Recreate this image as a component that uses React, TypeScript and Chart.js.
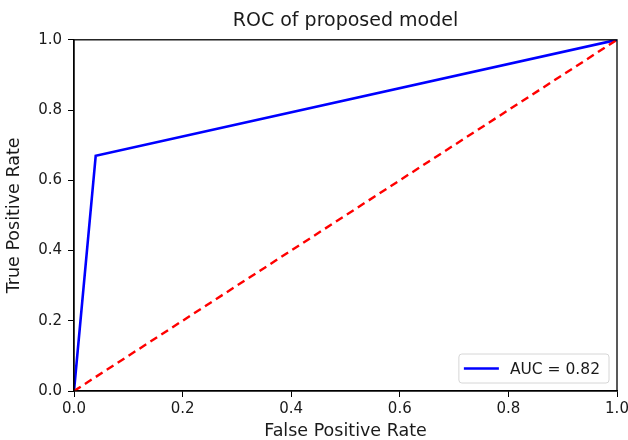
import React, { useEffect, useRef } from "react";
import { Chart, registerables } from "chart.js";

Chart.register(...registerables);

const TITLE = "ROC of proposed model";
const X_LABEL = "False Positive Rate";
const Y_LABEL = "True Positive Rate";
const ROC_FPR = [0, 0.04, 1];
const ROC_TPR = [0, 0.67, 1];
const DIAG_X = [0, 1];
const DIAG_Y = [0, 1];
const AUC_LABEL = "AUC = 0.82";
const TICKS = [0, 0.2, 0.4, 0.6, 0.8, 1.0];

const FONT = '"DejaVu Sans", "Liberation Sans", sans-serif';
const TEXT = "#1a1a1a";

const framePlugin = {
  id: "frame",
  afterDatasetsDraw(chart: any) {
    const { ctx, chartArea } = chart;
    ctx.save();
    ctx.strokeStyle = "#000";
    ctx.lineWidth = 1.3;
    ctx.strokeRect(chartArea.left, chartArea.top, chartArea.right - chartArea.left, chartArea.bottom - chartArea.top);
    ctx.restore();
  },
};

const legendPlugin = {
  id: "boxLegend",
  afterDraw(chart: any) {
    const { ctx, chartArea } = chart;
    const items = chart.data.datasets.filter((d: any) => d.label);
    if (!items.length) return;
    ctx.save();
    ctx.font = `15.5px ${FONT}`;
    const textW = Math.max(...items.map((d: any) => ctx.measureText(d.label).width));
    const padL = 4, lineLen = 36, gap = 11, padR = 9, rowH = 29;
    const w = padL + lineLen + gap + textW + padR;
    const h = rowH * items.length;
    const x = chartArea.right - 8 - w;
    const y = chartArea.bottom - 8 - h;
    const r = 3;
    ctx.beginPath();
    ctx.moveTo(x + r, y);
    ctx.lineTo(x + w - r, y);
    ctx.quadraticCurveTo(x + w, y, x + w, y + r);
    ctx.lineTo(x + w, y + h - r);
    ctx.quadraticCurveTo(x + w, y + h, x + w - r, y + h);
    ctx.lineTo(x + r, y + h);
    ctx.quadraticCurveTo(x, y + h, x, y + h - r);
    ctx.lineTo(x, y + r);
    ctx.quadraticCurveTo(x, y, x + r, y);
    ctx.closePath();
    ctx.fillStyle = "rgba(255,255,255,0.85)";
    ctx.fill();
    ctx.strokeStyle = "#d6d6d6";
    ctx.lineWidth = 1;
    ctx.stroke();
    items.forEach((d: any, i: number) => {
      const cy = y + rowH * i + rowH / 2;
      ctx.beginPath();
      ctx.moveTo(x + padL + 1, cy);
      ctx.lineTo(x + padL + lineLen, cy);
      ctx.strokeStyle = d.borderColor;
      ctx.lineWidth = d.borderWidth;
      ctx.setLineDash(d.borderDash || []);
      ctx.stroke();
      ctx.setLineDash([]);
      ctx.fillStyle = TEXT;
      ctx.textBaseline = "middle";
      ctx.textAlign = "left";
      ctx.fillText(d.label, x + padL + lineLen + gap, cy + 1);
    });
    ctx.restore();
  },
};

export default function App() {
  const ref = useRef<HTMLCanvasElement | null>(null);

  useEffect(() => {
    if (!ref.current) return;
    const tickCb = (v: any) => Number(v).toFixed(1);
    const setTicks = (s: any) => {
      s.ticks = TICKS.map((v) => ({ value: v }));
    };
    const chart = new Chart(ref.current, {
      type: "line",
      data: {
        datasets: [
          {
            label: AUC_LABEL,
            data: ROC_FPR.map((x, i) => ({ x, y: ROC_TPR[i] })),
            borderColor: "#0000ff",
            borderWidth: 2.6,
            pointRadius: 0,
            tension: 0,
            fill: false,
            order: 1,
          },
          {
            label: "",
            data: DIAG_X.map((x, i) => ({ x, y: DIAG_Y[i] })),
            borderColor: "#ff0000",
            borderWidth: 2.4,
            borderDash: [8, 5],
            pointRadius: 0,
            tension: 0,
            fill: false,
            order: 0,
          },
        ],
      },
      options: {
        animation: false,
        responsive: false,
        layout: { padding: { left: 0, right: 11, top: 0, bottom: 0 } },
        plugins: {
          legend: { display: false },
          tooltip: { enabled: false },
          title: {
            display: true,
            text: TITLE,
            fullSize: false,
            color: TEXT,
            font: { family: FONT, size: 19, weight: "normal", lineHeight: 1.2 },
            padding: { top: 10, bottom: 7 },
          },
        },
        scales: {
          x: {
            type: "linear",
            min: 0,
            max: 1,
            afterBuildTicks: setTicks,
            afterFit: (s: any) => {
              s.height = 49;
              s.paddingRight = 0;
              s.paddingLeft = 0;
            },
            ticks: { callback: tickCb, color: TEXT, font: { family: FONT, size: 15 }, padding: 3, maxRotation: 0 },
            grid: { display: true, drawOnChartArea: false, drawTicks: true, tickLength: 6, color: "#000", lineWidth: 1 },
            border: { display: true, color: "#000", width: 1.3 },
            title: {
              display: true,
              text: X_LABEL,
              color: TEXT,
              font: { family: FONT, size: 17.5, lineHeight: 1 },
              padding: { top: 0, bottom: 0 },
            },
          },
          y: {
            type: "linear",
            min: 0,
            max: 1,
            afterBuildTicks: setTicks,
            afterFit: (s: any) => {
              s.width = 74;
            },
            ticks: { callback: tickCb, color: TEXT, font: { family: FONT, size: 15 }, padding: 6 },
            grid: { display: true, drawOnChartArea: false, drawTicks: true, tickLength: 6, color: "#000", lineWidth: 1 },
            border: { display: true, color: "#000", width: 1.3 },
            title: {
              display: true,
              text: Y_LABEL,
              color: TEXT,
              font: { family: FONT, size: 17.5, lineHeight: 1 },
              padding: { top: 6, bottom: 0 },
            },
          },
        },
      } as any,
      plugins: [framePlugin, legendPlugin],
    });
    return () => chart.destroy();
  }, []);

  return (
    <div style={{ position: "fixed", left: 0, top: 0, width: 628, height: 440, background: "#fff" }}>
      <canvas ref={ref} width={628} height={440} style={{ display: "block", width: 628, height: 440 }} />
    </div>
  );
}
